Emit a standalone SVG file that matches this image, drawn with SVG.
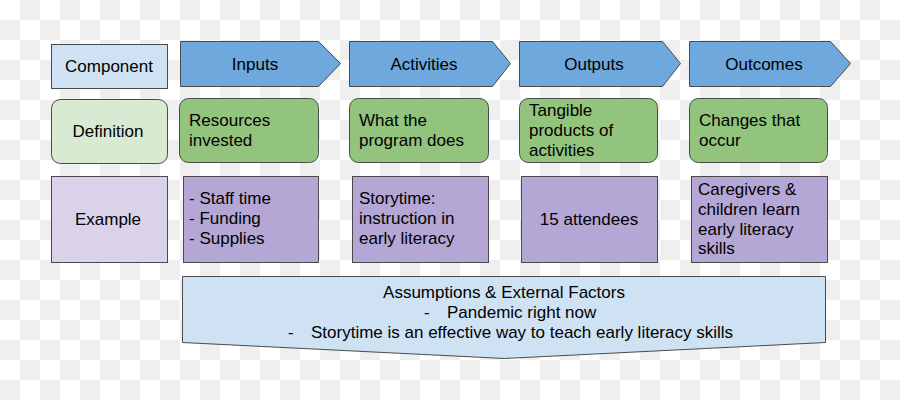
<svg xmlns="http://www.w3.org/2000/svg" width="900" height="400" viewBox="0 0 900 400">
<defs>
<pattern id="checker" x="0" y="0" width="40" height="40" patternUnits="userSpaceOnUse">
<rect width="40" height="40" fill="#ffffff"/>
<rect x="20" y="0" width="20" height="20" fill="#efefef"/>
<rect x="0" y="20" width="20" height="20" fill="#efefef"/>
</pattern>
</defs>
<style>
text{font-family:"Liberation Sans",Arial,sans-serif;font-size:17px;fill:#000}
.c{text-anchor:middle}
.shape{stroke:#4a4a4a;stroke-width:1}
.hdr{fill:#6fa8dc}
.lblue{fill:#cfe2f3}
.lgreen{fill:#d9ead3}
.green{fill:#93c47d}
.lpurple{fill:#d9d2e9}
.purple{fill:#b4a7d6}
</style>
<rect width="900" height="400" fill="url(#checker)"/>

<g id="component">
<rect class="shape lblue" x="51.5" y="44.5" width="116" height="44"/>
<text class="c" x="109" y="72">Component</text>
</g>
<g id="inputs">
<polygon class="shape hdr" points="180.5,41.5 318.5,41.5 340.5,63.5 318.5,86.5 180.5,86.5"/>
<text class="c" x="255" y="70">Inputs</text>
</g>
<g id="activities">
<polygon class="shape hdr" points="349.5,41.5 492.5,41.5 510.5,63.5 492.5,86.5 349.5,86.5"/>
<text class="c" x="424" y="70">Activities</text>
</g>
<g id="outputs">
<polygon class="shape hdr" points="519.5,41.5 662.5,41.5 680.5,63.5 662.5,86.5 519.5,86.5"/>
<text class="c" x="594" y="70">Outputs</text>
</g>
<g id="outcomes">
<polygon class="shape hdr" points="689.5,41.5 830.5,41.5 850.5,63.5 830.5,86.5 689.5,86.5"/>
<text class="c" x="764" y="70">Outcomes</text>
</g>

<g id="definition">
<rect class="shape lgreen" x="51.5" y="99.5" width="116" height="64" rx="9"/>
<text class="c" x="108" y="137">Definition</text>
</g>
<g id="def-inputs">
<rect class="shape green" x="179.5" y="98.5" width="139" height="64" rx="9"/>
<text x="189" y="126">Resources</text>
<text x="189" y="146">invested</text>
</g>
<g id="def-activities">
<rect class="shape green" x="349.5" y="98.5" width="139" height="64" rx="9"/>
<text x="359" y="126">What the</text>
<text x="359" y="146">program does</text>
</g>
<g id="def-outputs">
<rect class="shape green" x="519.5" y="98.5" width="138" height="64" rx="9"/>
<text x="529" y="116">Tangible</text>
<text x="529" y="136">products of</text>
<text x="529" y="156">activities</text>
</g>
<g id="def-outcomes">
<rect class="shape green" x="689.5" y="98.5" width="138" height="64" rx="9"/>
<text x="699" y="126">Changes that</text>
<text x="699" y="146">occur</text>
</g>

<g id="example">
<rect class="shape lpurple" x="51.5" y="176.5" width="116" height="86"/>
<text class="c" x="108" y="225">Example</text>
</g>
<g id="ex-inputs">
<rect class="shape purple" x="183.5" y="176.5" width="135" height="86"/>
<text x="189" y="204">- Staff time</text>
<text x="189" y="224">- Funding</text>
<text x="189" y="244">- Supplies</text>
</g>
<g id="ex-activities">
<rect class="shape purple" x="352.5" y="176.5" width="136" height="86"/>
<text x="359" y="204">Storytime:</text>
<text x="359" y="224">instruction in</text>
<text x="359" y="244">early literacy</text>
</g>
<g id="ex-outputs">
<rect class="shape purple" x="521.5" y="176.5" width="136" height="86"/>
<text class="c" x="589" y="225">15 attendees</text>
</g>
<g id="ex-outcomes">
<rect class="shape purple" x="691.5" y="176.5" width="136" height="86"/>
<text x="698" y="195">Caregivers &amp;</text>
<text x="698" y="215">children learn</text>
<text x="698" y="235">early literacy</text>
<text x="698" y="254">skills</text>
</g>

<g id="assumptions">
<polygon class="shape lblue" points="182.5,276.5 825.5,276.5 825.5,342.5 504.5,358.5 182.5,342.5"/>
<text class="c" x="504" y="298">Assumptions &amp; External Factors</text>
<text x="424" y="318">-</text>
<text x="447" y="318">Pandemic right now</text>
<text x="288" y="338">-</text>
<text x="311" y="338">Storytime is an effective way to teach early literacy skills</text>
</g>

<g id="connectors"></g>
</svg>
